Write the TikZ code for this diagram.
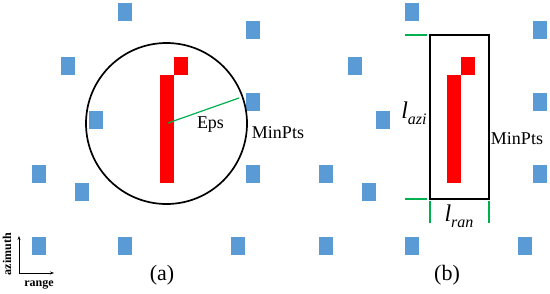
\documentclass[tikz,border=0pt]{standalone}
\usepackage{fontspec}
\setmainfont{Liberation Serif}
\usetikzlibrary{arrows.meta}
\definecolor{bsq}{RGB}{91,155,213}
\definecolor{gline}{RGB}{0,176,80}
\definecolor{rbar}{RGB}{255,0,0}
\begin{document}
\begin{tikzpicture}[x=1pt,y=-1pt,
  sq/.style={fill=bsq, draw=none, minimum width=14pt, minimum height=18pt, inner sep=0pt, outer sep=0pt},
  redbar/.style={fill=rbar, draw=none, minimum width=14pt, minimum height=108pt, inner sep=0pt, outer sep=0pt},
  redsq/.style={fill=rbar, draw=none, minimum width=14pt, minimum height=18pt, inner sep=0pt, outer sep=0pt},
  lbl/.style={font=\fontsize{18}{18}\selectfont, inner sep=0pt},
  captxt/.style={font=\fontsize{22}{22}\selectfont, inner sep=0pt},
  axtxt/.style={font=\fontsize{12}{12}\selectfont\bfseries, inner sep=0pt},
  gtick/.style={draw=gline, line width=1.2pt},
  ]
\useasboundingbox (0,0) rectangle (550,293);
% ---- panel (a) blue squares
\node[sq] (a1) at (125,12) {};
\node[sq] (a2) at (252.5,30) {};
\node[sq] (a3) at (68,66) {};
\node[sq] (a4) at (252.5,102) {};
\node[sq] (a5) at (96,120) {};
\node[sq] (a6) at (39,174) {};
\node[sq] (a7) at (252.5,174) {};
\node[sq] (a8) at (82,192) {};
\node[sq] (a9) at (39,246) {};
\node[sq] (a10) at (125,246) {};
\node[sq] (a11) at (238,246) {};
% ---- panel (b) blue squares
\node[sq] (b1) at (412,12) {};
\node[sq] (b2) at (539.5,30) {};
\node[sq] (b3) at (355,66) {};
\node[sq] (b4) at (539.5,102) {};
\node[sq] (b5) at (383,120) {};
\node[sq] (b6) at (326,174) {};
\node[sq] (b7) at (539.5,174) {};
\node[sq] (b8) at (369,192) {};
\node[sq] (b9) at (326,246) {};
\node[sq] (b10) at (412,246) {};
\node[sq] (b11) at (525,246) {};
% ---- red clusters
\node[redbar] (ra) at (167,129) {};
\node[redsq] (rb) at (181,66) {};
\node[redbar] (rc) at (454,129) {};
\node[redsq] (rd) at (468,66) {};
% ---- circle and Eps
\node[circle, draw=black, line width=1.7pt, minimum size=161pt, inner sep=0pt] (C) at (166.5,123.5) {};
\coordinate (epsA) at (168,123);
\coordinate (epsB) at (239,98);
\draw[draw=gline, line width=1.2pt] (epsA) -- (epsB);
\node[lbl] (eps) at (210.5,125) {Eps};
\node[lbl] (mpa) at (278,133) {MinPts};
\node[captxt] (capa) at (162,275) {(a)};
% ---- rectangle (b)
\node[draw=black, line width=1.5pt, minimum width=59pt, minimum height=164pt, inner sep=0pt] (R) at (459.5,117) {};
\coordinate (t1a) at (405,35); \coordinate (t1b) at (427,35);
\coordinate (t2a) at (405,199); \coordinate (t2b) at (427,199);
\coordinate (t3a) at (430,201); \coordinate (t3b) at (430,223);
\coordinate (t4a) at (489,201); \coordinate (t4b) at (489,223);
\draw[gtick] (t1a) -- (t1b);
\draw[gtick] (t2a) -- (t2b);
\draw[gtick] (t3a) -- (t3b);
\draw[gtick] (t4a) -- (t4b);
\node[inner sep=0pt] (lazi) at (414,113) {{\fontsize{24}{24}\selectfont\itshape l}{\fontsize{16}{16}\selectfont\itshape\raisebox{-6pt}{azi}}};
\node[inner sep=0pt] (lran) at (459,216) {{\fontsize{24}{24}\selectfont\itshape l}{\fontsize{16}{16}\selectfont\itshape\raisebox{-6pt}{ran}}};
\node[lbl] (mpb) at (517,139) {MinPts};
\node[captxt] (capb) at (447,275) {(b)};
% ---- axes
\coordinate (ax0) at (19,273);
\coordinate (axU) at (19,236);
\coordinate (axR) at (54,273);
\draw[line width=0.7pt, {Stealth[length=4pt,width=3pt]}-{Stealth[length=4pt,width=3pt]}] (axU) -- (ax0) -- (axR);
\node[axtxt, rotate=90] (azl) at (7,254) {azimuth};
\node[axtxt] (rgl) at (39,285) {range};
\end{tikzpicture}
\end{document}
